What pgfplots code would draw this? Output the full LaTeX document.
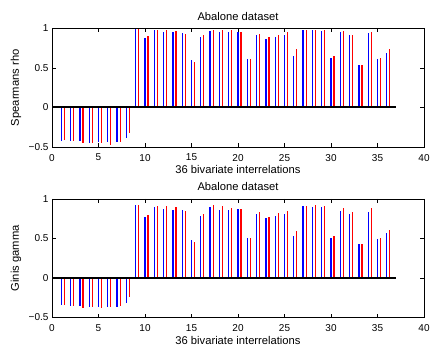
\documentclass[border=0pt]{standalone}
\usepackage{pgfplots}
\pgfplotsset{compat=1.18}
\usepackage{pgfplotstable}
\usepackage{fontspec}
\setmainfont{Liberation Sans}

\pgfplotstableread{
i b r
1 -0.420 -0.410
2 -0.420 -0.420
3 -0.420 -0.445
4 -0.450 -0.450
5 -0.440 -0.445
6 -0.440 -0.470
7 -0.440 -0.440
8 -0.390 -0.320
9 0.990 0.990
10 0.885 0.906
11 0.975 0.980
12 0.960 0.980
13 0.953 0.966
14 0.945 0.930
15 0.596 0.580
16 0.890 0.915
17 0.970 0.987
18 0.950 0.975
19 0.950 0.975
20 0.960 0.953
21 0.617 0.617
22 0.915 0.936
23 0.872 0.890
24 0.898 0.923
25 0.920 0.950
26 0.655 0.740
27 0.980 0.980
28 0.980 0.987
29 0.970 0.975
30 0.630 0.647
31 0.950 0.962
32 0.915 0.923
33 0.532 0.532
34 0.940 0.957
35 0.608 0.630
36 0.694 0.740
}\spearman

\pgfplotstableread{
i b r
1 -0.342 -0.342
2 -0.350 -0.359
3 -0.350 -0.380
4 -0.371 -0.371
5 -0.371 -0.384
6 -0.371 -0.371
7 -0.371 -0.350
8 -0.316 -0.245
9 0.924 0.928
10 0.772 0.793
11 0.899 0.916
12 0.869 0.907
13 0.857 0.895
14 0.857 0.852
15 0.485 0.460
16 0.780 0.806
17 0.899 0.928
18 0.857 0.907
19 0.857 0.890
20 0.873 0.873
21 0.502 0.502
22 0.806 0.831
23 0.755 0.768
24 0.785 0.819
25 0.814 0.844
26 0.532 0.595
27 0.907 0.907
28 0.899 0.928
29 0.895 0.907
30 0.506 0.527
31 0.848 0.882
32 0.806 0.831
33 0.426 0.426
34 0.840 0.882
35 0.489 0.502
36 0.570 0.603
}\gini

\pgfplotsset{
  every axis title shift=0pt,
  matlab/.style={
    scale only axis,
    width=372bp, height=118.5bp,
    anchor=south west,
    xmin=0, xmax=40, ymin=-0.5, ymax=1,
    xtick={0,5,...,40},
    ytick={-0.5,0,0.5,1},
    yticklabels={−0.5,0,0.5,1},
    tick pos=both, tick align=inside,
    major tick length=3.7bp,
    axis line style={line width=0.8bp},
    every tick/.style={black, line width=0.6bp},
    tick label style={font=\fontsize{10bp}{12bp}\selectfont},
    /pgf/number format/assume math mode=true,
    xticklabel style={yshift=-3.6bp},
    label style={font=\fontsize{11.2bp}{13bp}\selectfont},
    title style={font=\fontsize{11.2bp}{13bp}\selectfont, anchor=base, at={(axis description cs:0.5,1)}, yshift=8.4bp},
    xlabel style={anchor=base, at={(axis description cs:0.5,0)}, yshift=-26.5bp},
    ylabel style={anchor=center, at={(axis description cs:-0.097,0.5)}},
    clip=false,
  }
}

\begin{document}
\begin{tikzpicture}
\path[use as bounding box] (0,0) rectangle (430bp,350bp);
\begin{axis}[matlab, at={(52bp,203bp)},
  title={Abalone dataset}, xlabel={36 bivariate interrelations}, ylabel={Spearmans rho}]
\addplot[ycomb, mark=none, color=blue, line width=1.25bp] table[x=i, y=b] {\spearman};
\addplot[ycomb, mark=none, color=red, line width=1.25bp] table[x expr=\thisrow{i}+0.33, y=r] {\spearman};
\addplot[black, line width=2bp] coordinates {(0,0) (37,0)};
\end{axis}
\begin{axis}[matlab, at={(52bp,32.5bp)},
  title={Abalone dataset}, xlabel={36 bivariate interrelations}, ylabel={Ginis gamma}]
\addplot[ycomb, mark=none, color=blue, line width=1.25bp] table[x=i, y=b] {\gini};
\addplot[ycomb, mark=none, color=red, line width=1.25bp] table[x expr=\thisrow{i}+0.33, y=r] {\gini};
\addplot[black, line width=2bp] coordinates {(0,0) (37,0)};
\end{axis}
\end{tikzpicture}
\end{document}
